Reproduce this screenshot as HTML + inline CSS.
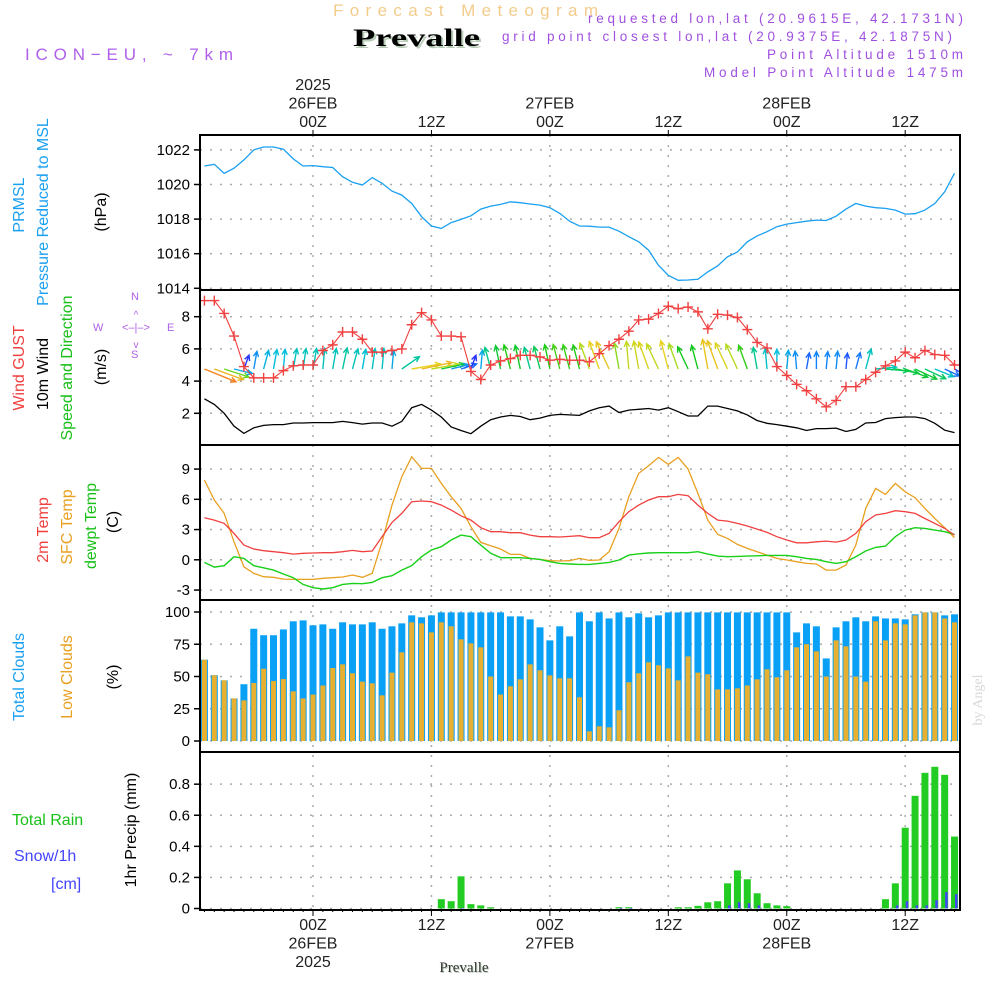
<!DOCTYPE html>
<html><head><meta charset="utf-8"><style>
html,body{margin:0;padding:0;background:#fff;}
svg{display:block;}
</style></head><body>
<svg id="chart" width="1000" height="1000" viewBox="0 0 1000 1000" xmlns="http://www.w3.org/2000/svg" font-family="Liberation Sans, sans-serif">
<defs><clipPath id="plotclip"><rect x="201" y="135" width="759" height="775"/></clipPath></defs>
<rect x="0" y="0" width="1000" height="1000" fill="#fff"/>
<text x="333" y="16" font-size="17" fill="#f3cc8c" textLength="265" lengthAdjust="spacing">Forecast Meteogram</text>
<text x="355" y="48" style="font-family:'Liberation Serif',serif" font-weight="bold" font-size="25" fill="#b8ccb8" textLength="127" lengthAdjust="spacingAndGlyphs">Prevalle</text>
<text x="353" y="46" style="font-family:'Liberation Serif',serif" font-weight="bold" font-size="25" fill="#000" textLength="127" lengthAdjust="spacingAndGlyphs">Prevalle</text>
<text x="25" y="60" font-size="17" fill="#b060e8" textLength="208" lengthAdjust="spacing">ICON−EU, ~ 7km</text>
<g fill="#a050e0" font-size="13.5">
<text x="588" y="23" textLength="375" lengthAdjust="spacing">requested lon,lat (20.9615E, 42.1731N)</text>
<text x="502" y="41" textLength="450" lengthAdjust="spacing">grid point closest lon,lat (20.9375E, 42.1875N)</text>
<text x="767" y="59" textLength="196" lengthAdjust="spacing">Point Altitude 1510m</text>
<text x="704" y="77" textLength="259" lengthAdjust="spacing">Model Point Altitude 1475m</text>
</g>
<text transform="translate(982,700) rotate(-90)" text-anchor="middle" style="font-family:'Liberation Serif',serif" font-size="14" fill="#d8d8d8">by Angel</text>
<g id="labels" fill="#000" font-size="14"></g>
<g id="grid"></g>
<g id="marks" clip-path="url(#plotclip)"></g>
<g id="frames"></g>
</svg>
<script>
// ---- data (hourly, hour offsets relative to 26FEB 00Z) ----
const startHour = -11;
const pressure = [1021.07,1021.17,1020.65,1020.94,1021.42,1022.0,1022.17,1022.17,1022.04,1021.48,1021.07,1021.09,1021.03,1020.98,1020.45,1020.13,1019.97,1020.4,1020.07,1019.62,1019.39,1018.9,1018.14,1017.6,1017.46,1017.8,1017.98,1018.19,1018.58,1018.75,1018.85,1019.0,1018.95,1018.87,1018.81,1018.66,1018.33,1017.88,1017.6,1017.59,1017.54,1017.54,1017.3,1016.98,1016.69,1016.2,1015.33,1014.75,1014.46,1014.48,1014.52,1014.95,1015.3,1015.82,1016.1,1016.69,1017.03,1017.27,1017.56,1017.71,1017.8,1017.88,1017.94,1017.92,1018.17,1018.58,1018.9,1018.75,1018.66,1018.62,1018.52,1018.29,1018.31,1018.52,1018.9,1019.58,1020.65];
const windGust = [9.0,9.0,8.2,6.8,4.9,4.2,4.2,4.2,4.65,4.95,5.0,5.0,5.9,6.25,7.05,7.05,6.6,5.8,5.8,5.9,6.0,7.5,8.25,7.8,6.8,6.8,6.75,4.6,4.1,5.0,5.25,5.4,5.6,5.6,5.5,5.3,5.35,5.3,5.3,5.2,5.7,6.2,6.6,7.1,7.8,7.85,8.2,8.65,8.5,8.6,8.3,7.25,8.15,8.1,7.95,7.2,6.4,6.05,4.9,4.35,3.8,3.4,2.9,2.4,2.8,3.65,3.65,4.1,4.55,4.95,5.25,5.8,5.45,5.9,5.65,5.6,5.0];
const windSpeed = [2.9,2.55,2.0,1.2,0.75,1.1,1.25,1.3,1.3,1.4,1.4,1.42,1.42,1.42,1.5,1.42,1.33,1.4,1.4,1.2,1.5,2.35,2.55,2.2,1.77,1.15,0.93,0.73,1.2,1.6,1.77,1.87,1.8,1.6,1.7,1.87,1.93,1.9,1.87,2.15,2.35,2.45,2.05,2.2,2.25,2.3,2.2,2.35,2.1,1.83,1.83,2.45,2.45,2.3,2.15,1.9,1.55,1.38,1.3,1.2,1.1,0.93,1.05,1.05,1.08,0.87,1.0,1.4,1.43,1.67,1.73,1.77,1.77,1.67,1.38,0.95,0.8];
const windDir = [112,110,108,104,20,10,15,10,5,10,8,10,5,10,12,15,10,8,5,5,55,80,78,80,78,76,72,20,5,-15,-12,-15,-12,-15,-15,-12,-15,-15,-15,-20,-20,-25,-10,-5,-10,-20,-25,-15,-20,-25,-15,-10,-20,-25,-25,-20,-10,-5,0,5,-5,10,0,5,5,5,15,15,85,95,100,110,115,115,112,115,120];
const temp2m = [4.17,3.94,3.61,2.62,1.46,1.07,0.9,0.8,0.7,0.57,0.64,0.67,0.7,0.7,0.8,0.93,0.8,0.87,2.29,3.71,4.6,5.76,5.83,5.76,5.43,4.93,4.37,3.94,3.18,2.79,2.79,2.69,2.69,2.45,2.29,2.29,2.26,2.32,2.39,2.19,2.19,2.62,3.78,4.77,5.43,5.93,6.26,6.26,6.49,6.36,5.43,4.6,3.94,3.84,3.61,3.35,3.05,2.72,2.29,1.96,1.69,1.69,1.79,1.86,1.76,1.96,2.62,3.78,4.44,4.6,4.87,4.77,4.6,4.1,3.61,3.12,2.45];
const tempSfc = [7.91,5.93,4.6,1.79,-0.69,-1.35,-1.68,-1.74,-1.91,-1.94,-1.94,-1.94,-1.84,-1.78,-1.71,-1.51,-1.74,-1.35,1.79,5.43,8.24,10.22,9.07,9.07,7.58,6.26,5.1,3.28,1.73,1.4,1.07,0.54,0.54,0.14,0.04,-0.09,-0.12,-0.09,0.14,-0.06,-0.02,0.8,3.12,6.26,8.57,9.33,10.16,9.46,10.16,9.0,6.59,3.94,2.52,2.12,1.53,1.13,0.8,0.47,0.14,-0.02,-0.19,-0.36,-0.42,-1.02,-1.02,-0.52,1.46,5.1,7.08,6.49,7.58,6.75,6.16,5.1,4.1,3.18,2.19];
const tempDew = [-0.26,-0.72,-0.59,0.31,0.14,-0.59,-0.79,-1.02,-1.41,-1.78,-2.44,-2.77,-2.9,-2.77,-2.44,-2.34,-2.37,-2.24,-1.78,-1.58,-1.02,-0.59,0.31,0.97,1.3,1.96,2.45,2.29,1.46,0.64,0.21,0.21,0.21,0.14,0.04,-0.19,-0.36,-0.42,-0.46,-0.46,-0.36,-0.26,-0.02,0.47,0.6,0.67,0.7,0.7,0.7,0.7,0.8,0.57,0.37,0.31,0.34,0.37,0.4,0.44,0.44,0.44,0.31,0.14,0.04,-0.19,-0.36,-0.19,0.31,0.87,1.23,1.36,2.29,2.95,3.18,3.12,2.95,2.79,2.52];
const totalClouds = [63,51,47,33,44,87,82,82,86.5,92.8,93.5,89.7,90.4,87,92,90.4,90.4,92,87,88.9,91.2,97.4,95.9,97.4,99.7,99.7,99.7,99.7,99.7,99.7,99.7,96.6,96.6,94.3,88.1,78,88.9,81.1,99.7,92.8,99.7,95,99.7,95.9,99,95.9,97.4,99.7,99.7,99.7,99.7,99.7,99.7,99.7,99.7,99.7,99.7,99.7,99.7,99.7,84.2,91.2,88.9,64,88.1,92.8,95.9,92.8,96.6,95,95,94.3,98.2,99.7,99.7,97.4,98.2];
const lowClouds = [63,51,47,33,31.5,45,56,46.5,48,38.5,33,36,43,56.6,59.4,52.5,46,44.7,35.4,53,68.7,92,91.2,84.2,92,88.9,78.8,75.7,72.6,50,36,42.4,47.8,59.4,54.8,50.9,48.6,48.6,33.9,7.5,11.4,10.6,23.8,45.5,52.5,61,58.7,56.3,47,65.6,53,51.7,40,40,40.8,43,47.8,55.6,49.4,54.8,72.6,75,69.5,50,78,73.4,50,46,92.8,78,91.2,90.4,97.4,99.7,99.7,95,92];
const totalRain = [0,0,0,0,0,0,0,0,0,0,0,0,0,0,0,0,0,0,0,0,0,0,0,0,0.06,0.047,0.207,0.028,0.02,0.008,0,0,0,0,0,0,0,0,0,0,0,0,0.008,0.008,0,0,0,0,0.008,0.008,0.017,0.04,0.047,0.162,0.245,0.188,0.098,0.034,0.02,0.015,0,0,0,0,0,0,0,0,0,0.06,0.162,0.52,0.725,0.873,0.912,0.86,0.463];
const snowfall = [0,0,0,0,0,0,0,0,0,0,0,0,0,0,0,0,0,0,0,0,0,0,0,0,0,0,0.004,0,0,0,0,0,0,0,0,0,0,0,0,0,0,0,0.004,0.004,0,0,0,0,0,0,0,0,0,0.02,0.04,0.034,0.02,0,0,0,0,0,0,0,0,0,0,0,0,0,0.02,0.047,0.02,0.02,0.053,0.105,0.092];
const pressureTicks = [1014,1016,1018,1020,1022];
const windTicks = [2,4,6,8];
const tempTicks = [-3,0,3,6,9];
const cloudTicks = [0,25,50,75,100];
const precipTicks = [0,0.2,0.4,0.6,0.8];
const precipTickLabels = ["0","0.2","0.4","0.6","0.8"];
const timeTicks = [0,12,24,36,48,60];
const timeTopLabels = [["2025","26FEB","00Z"],["12Z"],["27FEB","00Z"],["12Z"],["28FEB","00Z"],["12Z"]];
const timeBottomLabels = [["00Z","26FEB","2025"],["12Z"],["00Z","27FEB"],["12Z"],["00Z","28FEB"],["12Z"]];

// ---- scales ----
const X0 = 200, X1 = 960;
const xScale = h => 313 + h * 9.87;
const hourOf = i => startHour + i;
const yP = v => 288.3 - (v - 1014) * 17.3;
const yW = v => 445.5 - v * 16.1;
const yT = v => 559.8 - v * 10.08;
const yC = v => 741 - v * 1.29;
const yR = v => 908.5 - v * 155.4;
const panels = [[135,290],[290,445],[445,600],[600,752],[752,910]];

const NS = "http://www.w3.org/2000/svg";
function mk(tag, attrs, parent) {
  const e = document.createElementNS(NS, tag);
  for (const k in attrs) e.setAttribute(k, attrs[k]);
  parent.appendChild(e);
  return e;
}
const grid = document.getElementById('grid');
const marks = document.getElementById('marks');
const frames = document.getElementById('frames');
const labels = document.getElementById('labels');

function hGrid(ticks, yf, fmt, name) {
  ticks.forEach((t, k) => {
    const y = yf(t);
    const ln = mk('line', {x1:X0, x2:X1, y1:y, y2:y, stroke:'#aaa', 'stroke-width':1.5, 'stroke-dasharray':'2,8'}, grid);
    
    
    const tk = mk('line', {x1:X0-6, x2:X0, y1:y, y2:y, stroke:'#000', 'stroke-width':1.5}, frames);
    
    
    const tx = mk('text', {x:X0-10, y:y+5, 'text-anchor':'end', 'font-size':15}, labels);
    tx.textContent = fmt ? fmt[k] : String(t);
    
    
  });
}
hGrid(pressureTicks, yP, null, 'pressure-axis');
hGrid(windTicks, yW, null, 'wind-axis');
hGrid(tempTicks, yT, null, 'temp-axis');
hGrid(cloudTicks, yC, null, 'cloud-axis');
hGrid(precipTicks, yR, precipTickLabels, 'precip-axis');

timeTicks.forEach((h, k) => {
  const x = xScale(h);
  const vl = mk('line', {x1:x, x2:x, y1:135, y2:910, stroke:'#aaa', 'stroke-width':1.5, 'stroke-dasharray':'2,8'}, grid);
  
  
  const t1 = mk('line', {x1:x, x2:x, y1:130, y2:135, stroke:'#000', 'stroke-width':1}, frames);
  
  
  const t2 = mk('line', {x1:x, x2:x, y1:910, y2:916, stroke:'#000', 'stroke-width':1}, frames);
  
  
  const top = timeTopLabels[k];
  top.forEach((s, j) => {
    const t = mk('text', {x:x, y:127 - (top.length-1-j)*18.5, 'text-anchor':'middle', 'font-size':16, fill:'#222'}, labels);
    t.textContent = s;
    
    
  });
  timeBottomLabels[k].forEach((s, j) => {
    const t = mk('text', {x:x, y:930 + j*18.5, 'text-anchor':'middle', 'font-size':16, fill:'#222'}, labels);
    t.textContent = s;
    
    
  });
});
for (let i = 0; i < totalRain.length; i++) {
  const x = xScale(hourOf(i));
  const m = mk('line', {x1:x, x2:x, y1:909, y2:912, stroke:'#000', 'stroke-width':1}, frames);
  
  
}

function linePath(arr, yf) {
  return arr.map((v, i) => (i ? 'L' : 'M') + xScale(hourOf(i)).toFixed(1) + ',' + yf(v).toFixed(1)).join('');
}

totalClouds.forEach((v, i) => {
  const x = xScale(hourOf(i));
  const b = mk('rect', {x:x-3.5, y:yC(v), width:7, height:yC(0)-yC(v), fill:'#0aa0f5'}, marks);
  
  
});
lowClouds.forEach((v, i) => {
  const x = xScale(hourOf(i));
  const b = mk('rect', {x:x-2.5, y:yC(v), width:5, height:yC(0)-yC(v), fill:'#e8b030'}, marks);
  
  
});
totalRain.forEach((v, i) => {
  if (v <= 0) return;
  const x = xScale(hourOf(i));
  const b = mk('rect', {x:x-3.5, y:yR(v), width:7, height:yR(0)-yR(v), fill:'#22cc22'}, marks);
  
  
});
snowfall.forEach((v, i) => {
  if (v <= 0) return;
  const x = xScale(hourOf(i));
  const b = mk('rect', {x:x+0.5, y:yR(v), width:2.5, height:yR(0)-yR(v), fill:'#4444ff'}, marks);
  
  
});

const pl = mk('path', {d:linePath(pressure, yP), fill:'none', stroke:'#1aa0f0', 'stroke-width':1.3}, marks);



const tl1 = mk('path', {d:linePath(tempSfc, yT), fill:'none', stroke:'#e8a020', 'stroke-width':1.3}, marks);


const tl2 = mk('path', {d:linePath(tempDew, yT), fill:'none', stroke:'#18d018', 'stroke-width':1.4}, marks);


const tl3 = mk('path', {d:linePath(temp2m, yT), fill:'none', stroke:'#f04040', 'stroke-width':1.3}, marks);



const wl = mk('path', {d:linePath(windSpeed, yW), fill:'none', stroke:'#000', 'stroke-width':1.3}, marks);



// speed colour scale (piecewise)
const colorStops = [[0.7,[40,40,255]],[1.0,[20,120,255]],[1.3,[0,190,220]],[1.6,[0,200,130]],[1.85,[20,200,20]],[2.1,[170,220,30]],[2.35,[230,210,30]],[2.9,[245,130,30]]];
function speedColor(s) {
  if (s <= colorStops[0][0]) return 'rgb(' + colorStops[0][1].join(',') + ')';
  for (let k = 1; k < colorStops.length; k++) {
    if (s <= colorStops[k][0]) {
      const a = colorStops[k-1], b = colorStops[k];
      const t = (s - a[0]) / (b[0] - a[0]);
      return 'rgb(' + a[1].map((c, j) => Math.round(c + (b[1][j]-c)*t)).join(',') + ')';
    }
  }
  return 'rgb(' + colorStops[colorStops.length-1][1].join(',') + ')';
}
windDir.forEach((d, i) => {
  const s = windSpeed[i];
  const x = xScale(hourOf(i)), y = 369;
  const L = 8 + s * 9;
  const a = d * Math.PI / 180;
  const tx = x + L * Math.sin(a), ty = y - L * Math.cos(a);
  const ha = 0.45, hl = 6;
  const b1x = tx - hl * Math.sin(a - ha), b1y = ty + hl * Math.cos(a - ha);
  const b2x = tx - hl * Math.sin(a + ha), b2y = ty + hl * Math.cos(a + ha);
  const ar = mk('path', {d:'M'+x.toFixed(1)+','+y+'L'+tx.toFixed(1)+','+ty.toFixed(1)+'M'+b1x.toFixed(1)+','+b1y.toFixed(1)+'L'+tx.toFixed(1)+','+ty.toFixed(1)+'L'+b2x.toFixed(1)+','+b2y.toFixed(1), fill:'none', stroke:speedColor(s), 'stroke-width':1.4}, marks);
  
  
});

const gl = mk('path', {d:linePath(windGust, yW), fill:'none', stroke:'#f04040', 'stroke-width':1.1}, marks);


windGust.forEach((v, i) => {
  const x = xScale(hourOf(i)), y = yW(v);
  const m = mk('path', {d:'M'+(x-5)+','+y+'h10M'+x+','+(y-5)+'v10', stroke:'#f04040', 'stroke-width':1.4}, marks);
  
  
});

panels.forEach((p, k) => {
  const r = mk('rect', {x:X0, y:p[0], width:X1-X0, height:p[1]-p[0], fill:'none', stroke:'#000', 'stroke-width':2}, frames);
  
  
});
</script>
<script>
(function(){
  const svg = document.getElementById('chart');
  const NS = "http://www.w3.org/2000/svg";
  function vt(txt, x, y, color, name, size) {
    const t = document.createElementNS(NS, 'text');
    t.setAttribute('transform', 'translate(' + x + ',' + y + ') rotate(-90)');
    t.setAttribute('text-anchor', 'middle');
    t.setAttribute('font-size', size || 16);
    t.setAttribute('fill', color);
    t.textContent = txt;
    
    
    svg.appendChild(t);
  }
  function ht(txt, x, y, color, name, size, anchor) {
    const t = document.createElementNS(NS, 'text');
    t.setAttribute('x', x); t.setAttribute('y', y);
    t.setAttribute('font-size', size || 15);
    t.setAttribute('fill', color);
    if (anchor) t.setAttribute('text-anchor', anchor);
    t.textContent = txt;
    
    
    svg.appendChild(t);
  }
  vt('PRMSL', 24, 205, '#1aa0f0', 'prmsl-label');
  vt('Pressure Reduced to MSL', 48, 212, '#1aa0f0', 'pressure-label');
  vt('(hPa)', 106, 212, '#000', 'pressure-unit');
  vt('Wind GUST', 24, 368, '#f04040', 'gust-label');
  vt('10m Wind', 48, 374, '#000', 'wind-label');
  vt('Speed and Direction', 72, 368, '#18c018', 'speed-direction-label');
  vt('(m/s)', 106, 367, '#000', 'wind-unit');
  vt('2m Temp', 48, 530, '#f04040', 'temp-2m-label');
  vt('SFC Temp', 72, 527, '#e8a020', 'sfc-temp-label');
  vt('dewpt Temp', 96, 526, '#18c018', 'dewpoint-label');
  vt('(C)', 118, 522, '#000', 'temp-unit');
  vt('Total Clouds', 24, 677, '#1aa0f0', 'total-clouds-label');
  vt('Low Clouds', 72, 677, '#e8a020', 'low-clouds-label');
  vt('(%)', 118, 677, '#000', 'cloud-unit');
  vt('1hr Precip (mm)', 136, 830, '#000', 'precip-label');
  ht('Total   Rain', 12, 825, '#18c018', 'rain-legend', 16);
  ht('Snow/1h', 14, 861, '#4444ff', 'snow-legend', 16);
  ht('[cm]', 51, 889, '#4444ff', 'snow-unit', 16);
  const c = '#b060e8';
  ht('W', 93, 331, c, 'compass-w', 11);
  ht('E', 167, 331, c, 'compass-e', 11);
  ht('N', 131, 300, c, 'compass-n', 11);
  ht('S', 131, 358, c, 'compass-s', 11);
  ht('<–|–>', 136, 331, c, 'compass-ew', 11, 'middle');
  ht('^', 136, 318, c, 'compass-up', 10, 'middle');
  ht('v', 136, 348, c, 'compass-down', 10, 'middle');
  const sh = document.createElementNS(NS, 'text');
  sh.setAttribute('x', 465); sh.setAttribute('y', 973);
  sh.setAttribute('text-anchor', 'middle');
  sh.setAttribute('font-size', 15);
  sh.setAttribute('style', "font-family:'Liberation Serif',serif");
  sh.setAttribute('fill', '#bcd0bc');
  sh.textContent = 'Prevalle';
  
  
  svg.appendChild(sh);
  const f = document.createElementNS(NS, 'text');
  f.setAttribute('x', 464); f.setAttribute('y', 972);
  f.setAttribute('text-anchor', 'middle');
  f.setAttribute('font-size', 15);
  f.setAttribute('style', "font-family:'Liberation Serif',serif");
  f.setAttribute('fill', '#333');
  f.textContent = 'Prevalle';
  
  
  svg.appendChild(f);
})();
</script>
</body></html>
